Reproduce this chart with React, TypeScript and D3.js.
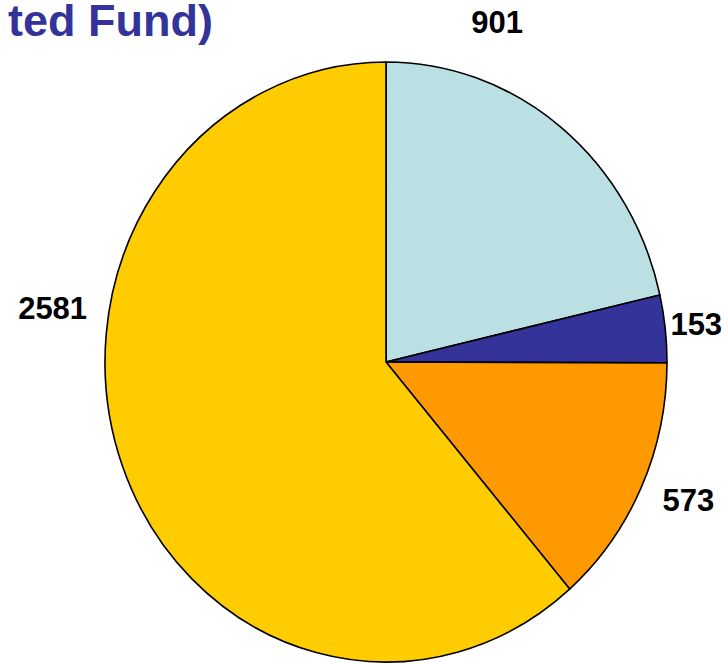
import React from "react";
import * as d3 from "d3";

const categories = ["A", "B", "C", "D"];
const values = [901, 153, 573, 2581];
const colors = ["#BBE0E3", "#333399", "#FF9900", "#FFCC00"];
const titleText = "ted Fund)";

// layout constants
const W = 728;
const H = 663;
const CX = 386;
const CY = 362;
const RY = 300;
const RX = 281;
const LABEL_FONT = 31;
// nudges from slice edge-midpoint to label centre
const labelNudge: [number, number][] = [
  [-64, -106],
  [31, -5],
  [47, 13],
  [-70, -159],
];

export default function App() {
  const pie = d3
    .pie<number>()
    .sort(null)
    .value((d) => d);
  const arcs = pie(values);
  const arc = d3
    .arc<d3.PieArcDatum<number>>()
    .innerRadius(0)
    .outerRadius(RY);
  const sx = RX / RY;

  return (
    <svg
      width={W}
      height={H}
      style={{ position: "absolute", left: 0, top: 0, display: "block" }}
      fontFamily="Arial, 'Liberation Sans', sans-serif"
    >
      <rect width={W} height={H} fill="#ffffff" />
      <g transform={`translate(${CX},${CY}) scale(${sx},1)`}>
        {arcs.map((a, i) => (
          <path
            key={categories[i]}
            d={arc(a) || ""}
            fill={colors[i]}
            stroke="#000"
            strokeWidth={1.6}
            strokeLinejoin="round"
            vectorEffect="non-scaling-stroke"
          />
        ))}
      </g>
      {arcs.map((a, i) => {
        const mid = (a.startAngle + a.endAngle) / 2;
        const ex = CX + RX * Math.sin(mid);
        const ey = CY - RY * Math.cos(mid);
        const x = ex + labelNudge[i][0];
        const y = ey + labelNudge[i][1];
        return (
          <text
            key={"l" + i}
            x={x}
            y={y + LABEL_FONT * 0.36}
            textAnchor="middle"
            fontSize={LABEL_FONT}
            fontWeight="bold"
            fill="#000"
          >
            {values[i]}
          </text>
        );
      })}
      <text
        x={213}
        y={36}
        textAnchor="end"
        fontSize={45}
        fontWeight="bold"
        fill="#333399"
      >
        {titleText}
      </text>
    </svg>
  );
}
